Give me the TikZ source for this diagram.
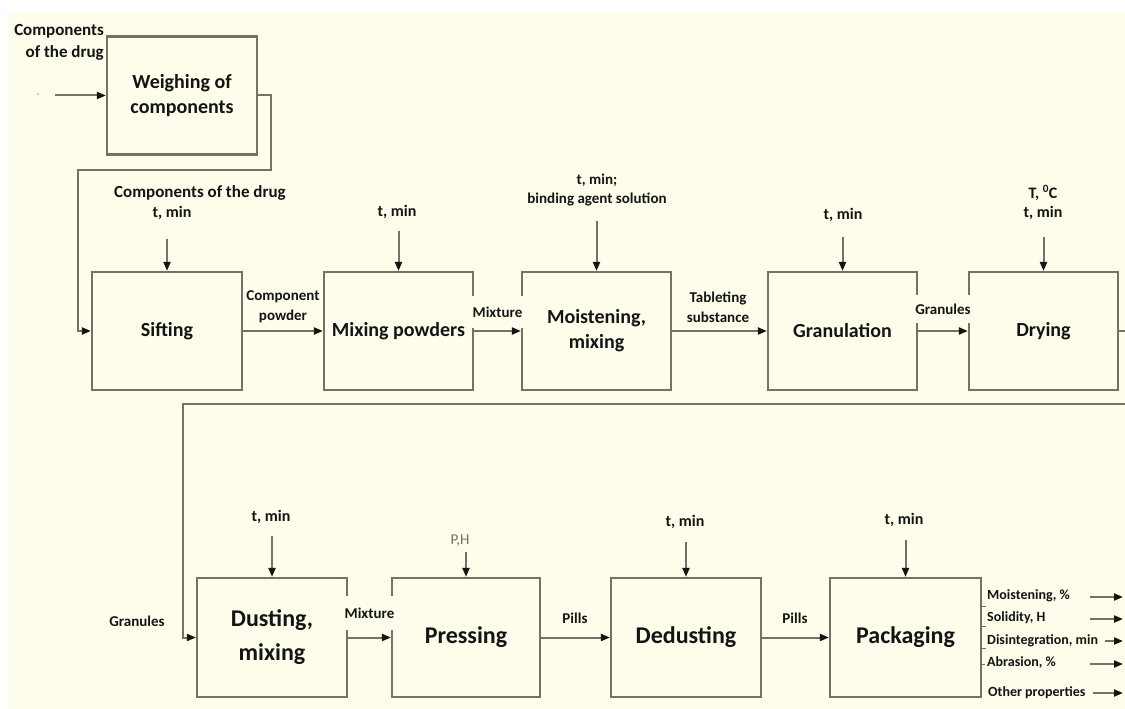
\documentclass[tikz,border=0pt]{standalone}
\usepackage{fontspec}
\setmainfont{Carlito}
\usetikzlibrary{arrows.meta}
\definecolor{bg}{RGB}{254,252,234}
\definecolor{lncol}{RGB}{122,111,99}
\definecolor{tx}{RGB}{20,20,20}
\definecolor{gtx}{RGB}{120,110,100}
\begin{document}
\begin{tikzpicture}[x=1pt,y=-1pt,
  box/.style={draw=lncol, line width=2.2pt, minimum width=150pt, minimum height=118pt, inner sep=0pt, align=center, text=tx, font=\bfseries\fontsize{20}{25}\selectfont},
  bbox/.style={box, minimum height=119pt, font=\bfseries\fontsize{24}{34}\selectfont},
  lbl/.style={inner sep=0pt, align=center, text=tx, font=\bfseries\fontsize{15}{20}\selectfont},
  tmin/.style={lbl, font=\bfseries\fontsize{16}{20}\selectfont},
  big/.style={lbl, font=\bfseries\fontsize{17}{22}\selectfont},
  olbl/.style={lbl, anchor=west, font=\bfseries\fontsize{14}{18}\selectfont},
  cover/.style={lbl, fill=bg},
  arr/.style={draw=lncol, line width=2pt, -{Triangle[length=9pt,width=7pt,color=tx]}},
  tick/.style={draw=lncol, line width=1pt}]
\useasboundingbox (0,0) rectangle (1125,709);
\fill[bg] (8,11) rectangle (1125,709);

% boxes
\node[box] (w) at (182,95.5) {Weighing of\\components};
\node[box] (sift) at (167,331) {Sifting};
\node[box, minimum width=149pt] (mix) at (398.5,331) {Mixing powders};
\node[box, minimum width=149pt] (moist) at (596.5,331) {Moistening,\\mixing};
\node[box, minimum width=149pt] (gran) at (842.5,331) {Granulation};
\node[box, minimum width=149pt] (dry) at (1043.5,331) {Drying};
\node[bbox] (dust) at (272,637.5) {Dusting,\\mixing};
\node[bbox, minimum width=148pt] (press) at (466,637.5) {Pressing};
\node[bbox] (dedust) at (686,637.5) {Dedusting};
\node[bbox, minimum width=151pt] (pack) at (905.5,637.5) {Packaging};

% input to weighing
\node[big, anchor=east, align=right] (cin) at (104,42) {Components\\of the drug};
\fill[lncol!60] (38,94) circle (1);
\coordinate (win) at (55,95.5);
\draw[arr] (win) -- (w.west);

% weighing to sifting
\coordinate (c1) at (271,170);
\coordinate (c2) at (78,170);
\draw[arr] (w.east) -| (c1) -- (c2) |- (sift.west);

% top inputs
\node[big] (l1) at (200,193) {Components of the drug};
\node[tmin] (l2) at (172,213) {t, min};
\coordinate (a1) at (167,239);
\draw[arr] (a1) -- (sift.north);

\node[tmin] (l3) at (397,212) {t, min};
\coordinate (a2) at (398.5,231);
\draw[arr] (a2) -- (mix.north);

\node[lbl] (l4) at (597,180) {t, min;};
\node[lbl] (l5) at (597,199) {binding agent solution};
\coordinate (a3) at (596.5,221);
\draw[arr] (a3) -- (moist.north);

\node[tmin] (l6) at (843,215) {t, min};
\coordinate (a4) at (842.5,237);
\draw[arr] (a4) -- (gran.north);

\node[tmin] (l7) at (1043,193) {T, \textsuperscript{0}C};
\node[tmin] (l8) at (1043,213) {t, min};
\coordinate (a5) at (1043.5,237);
\draw[arr] (a5) -- (dry.north);

% top row flow
\node[lbl] (cp) at (283,307) {Component\\powder};
\node[cover, minimum width=56pt, minimum height=32pt] (mx1) at (497.5,312) {Mixture};
\node[lbl] (ts) at (718,307) {Tableting\\substance};
\node[cover, minimum width=60pt, minimum height=28pt] (gr1) at (943,309) {Granules};
\draw[arr] (sift.east) -- (mix.west);
\draw[arr] (mix.east) -- (moist.west);
\draw[arr] (moist.east) -- (gran.west);
\draw[arr] (gran.east) -- (dry.west);

% drying to dusting
\coordinate (r1) at (1132,404);
\coordinate (l9) at (183,404);
\draw[arr] (dry.east) -| (r1) -- (l9) |- (dust.west);
\node[lbl] (gr2) at (137,621) {Granules};

% bottom inputs
\node[tmin] (b1) at (271,517) {t, min};
\coordinate (a6) at (272,536);
\draw[arr] (a6) -- (dust.north);

\node[lbl, font=\fontsize{15}{18}\selectfont, text=gtx] (b2) at (460,541) {P,H};
\coordinate (a7) at (466,552);
\draw[arr] (a7) -- (press.north);

\node[tmin] (b3) at (685,522) {t, min};
\coordinate (a8) at (686,542);
\draw[arr] (a8) -- (dedust.north);

\node[tmin] (b4) at (904,520) {t, min};
\coordinate (a9) at (905.5,540);
\draw[arr] (a9) -- (pack.north);

% bottom row flow
\node[cover, minimum width=54pt, minimum height=34pt] (mx2) at (369.5,613) {Mixture};
\node[lbl] (p1) at (575,618) {Pills};
\node[lbl] (p2) at (795,618) {Pills};
\draw[arr] (dust.east) -- (press.west);
\draw[arr] (press.east) -- (dedust.west);
\draw[arr] (dedust.east) -- (pack.west);

% outputs
\node[olbl] (o1) at (987,596) {Moistening, \%};
\node[olbl] (o2) at (987,618) {Solidity, H};
\node[olbl] (o3) at (987,641) {Disintegration, min};
\node[olbl] (o4) at (987,663) {Abrasion, \%};
\node[olbl] (o5) at (988,693) {Other properties};
\draw[tick] (981,606) -- (986,606);
\draw[tick] (981,626) -- (986,626);
\draw[tick] (981,648) -- (986,648);
\draw[tick] (981,664) -- (985,664);
\coordinate (s1) at (1090,597); \coordinate (e1) at (1123,597);
\coordinate (s2) at (1090,619); \coordinate (e2) at (1123,619);
\coordinate (s3) at (1105,641); \coordinate (e3) at (1123,641);
\coordinate (s4) at (1090,664); \coordinate (e4) at (1123,664);
\coordinate (s5) at (1093,693); \coordinate (e5) at (1123,693);
\draw[arr] (s1) -- (e1);
\draw[arr] (s2) -- (e2);
\draw[arr] (s3) -- (e3);
\draw[arr] (s4) -- (e4);
\draw[arr] (s5) -- (e5);
\end{tikzpicture}
\end{document}
